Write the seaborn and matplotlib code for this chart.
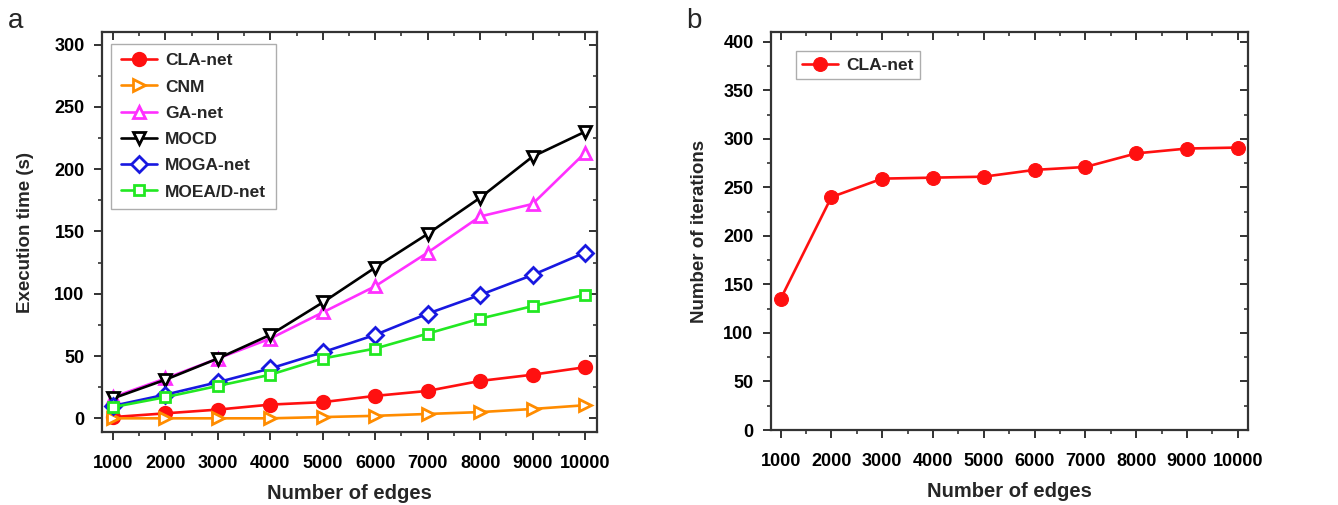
import numpy as np
import pandas as pd
import seaborn as sns
import matplotlib.pyplot as plt
from matplotlib.ticker import MultipleLocator

edges = [1000, 2000, 3000, 4000, 5000, 6000, 7000, 8000, 9000, 10000]

# execution time (s) per method
cla_net = [1, 4, 7, 11, 13, 18, 22, 30, 35, 41]
cnm = [0, 0, 0, 0, 1, 2, 3.5, 5, 7.5, 10.5]
ga_net = [17, 32, 48, 64, 85, 106, 133, 162, 172, 213]
mocd = [16, 31, 48, 67, 93, 121, 148, 177, 210, 230]
moga_net = [10, 19, 29, 40, 53, 67, 84, 99, 115, 133]
moead_net = [9, 17, 26, 35, 48, 56, 68, 80, 90, 99]

# iterations for CLA-net
iterations = [135, 240, 259, 260, 261, 268, 271, 285, 290, 291]

methods = ['CLA-net', 'CNM', 'GA-net', 'MOCD', 'MOGA-net', 'MOEA/D-net']
series = [cla_net, cnm, ga_net, mocd, moga_net, moead_net]
colors = ['#ff1010', '#ff8c00', '#ff30ff', '#000000', '#1818e0', '#22e822']
markers = ['o', '>', '^', 'v', 'D', 's']
msizes = [9, 8, 9, 9, 8, 7.5]

sns.set_style('white')
plt.rcParams['font.family'] = ['Liberation Sans', 'DejaVu Sans']
plt.rcParams['font.weight'] = 'bold'

fig = plt.figure(figsize=(13.38, 5.05), dpi=100)
ax1 = fig.add_axes([0.0762, 0.1445, 0.370, 0.792])
ax2 = fig.add_axes([0.5762, 0.1485, 0.3565, 0.788])


def style_axis(ax, ymax, ymin):
    ax.set_xlim(790, 10230)
    ax.set_ylim(ymin, ymax)
    ax.xaxis.set_major_locator(MultipleLocator(1000))
    ax.xaxis.set_minor_locator(MultipleLocator(500))
    ax.yaxis.set_major_locator(MultipleLocator(50))
    ax.yaxis.set_minor_locator(MultipleLocator(25))
    ax.tick_params(which='major', direction='out', length=5.5, width=1.3,
                   labelsize=13, colors='#222222', bottom=True, left=True)
    ax.tick_params(axis='x', which='major', pad=11)
    ax.tick_params(axis='y', which='major', pad=7)
    ax.tick_params(which='minor', direction='out', length=3, width=1.1,
                   colors='#222222', bottom=True, left=True)
    for lbl in ax.get_xticklabels() + ax.get_yticklabels():
        lbl.set_fontweight('bold')
        lbl.set_color('black')
    for s in ax.spines.values():
        s.set_color('#333333')
        s.set_linewidth(1.6)
    # mirrored inward ticks on top and right
    top = ax.secondary_xaxis('top')
    top.xaxis.set_major_locator(MultipleLocator(1000))
    top.xaxis.set_minor_locator(MultipleLocator(500))
    top.tick_params(which='major', direction='in', length=5.5, width=1.3,
                    labeltop=False, colors='#222222')
    top.tick_params(which='minor', direction='in', length=3, width=1.1, colors='#222222')
    top.spines['top'].set_visible(False)
    right = ax.secondary_yaxis('right')
    right.yaxis.set_major_locator(MultipleLocator(50))
    right.yaxis.set_minor_locator(MultipleLocator(25))
    right.tick_params(which='major', direction='in', length=5.5, width=1.3,
                      labelright=False, colors='#222222')
    right.tick_params(which='minor', direction='in', length=3, width=1.1, colors='#222222')
    right.spines['right'].set_visible(False)


for name, vals, c, m, ms in zip(methods, series, colors, markers, msizes):
    mfc = c if m == 'o' else 'white'
    sns.lineplot(x=edges, y=vals, ax=ax1, color=c, marker=m, markersize=ms,
                 markerfacecolor=mfc, markeredgecolor=c, markeredgewidth=2,
                 linewidth=1.9, label=name)

style_axis(ax1, 310, -11)
ax1.set_xlabel('Number of edges', fontsize=14.5, fontweight='bold', labelpad=9)
ax1.set_ylabel('Execution time (s)', fontsize=13.5, fontweight='bold', labelpad=15)
leg = ax1.legend(loc='upper left', bbox_to_anchor=(0.012, 0.98), fontsize=12.5,
                 frameon=True, fancybox=False, edgecolor='#999999',
                 handlelength=2.1, handletextpad=0.45, labelspacing=0.64,
                 borderpad=0.55, borderaxespad=0.2)
for t in leg.get_texts():
    t.set_fontweight('bold')

sns.lineplot(x=edges, y=iterations, ax=ax2, color='#ff1010', marker='o',
             markersize=10, markerfacecolor='#ff1010', markeredgecolor='#ff1010',
             linewidth=1.9, label='CLA-net')
style_axis(ax2, 410, 0)
ax2.set_xlim(810, 10200)
ax2.set_xlabel('Number of edges', fontsize=14.5, fontweight='bold', labelpad=9)
ax2.set_ylabel('Number of iterations', fontsize=13.5, fontweight='bold', labelpad=11)
leg2 = ax2.legend(loc='upper left', bbox_to_anchor=(0.045, 0.96), fontsize=12.5,
                  frameon=True, fancybox=False, edgecolor='#999999',
                  handlelength=2.1, handletextpad=0.45, borderpad=0.35,
                  borderaxespad=0.2)
for t in leg2.get_texts():
    t.set_fontweight('bold')

fig.text(0.006, 0.945, 'a', fontsize=20, fontweight='normal')
fig.text(0.513, 0.945, 'b', fontsize=20, fontweight='normal')

fig.savefig('out.png', dpi=100)
